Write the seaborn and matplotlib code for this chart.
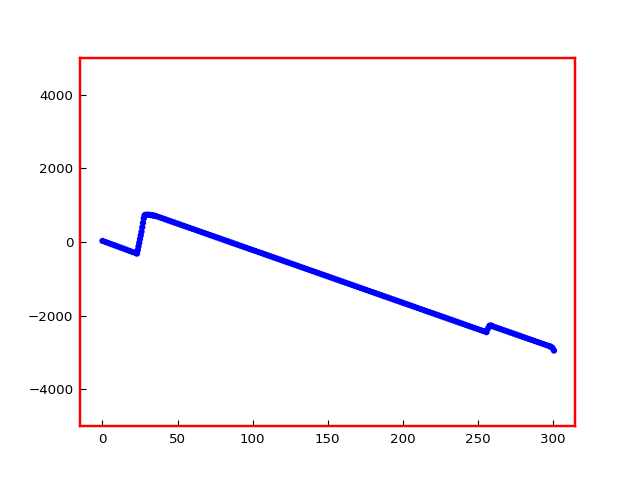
import matplotlib
matplotlib.use("Agg")
import matplotlib.pyplot as plt
import seaborn as sns
import pandas as pd

# Segment before the jump
x_a = [0, 2, 4, 6, 8, 10, 12, 14, 16, 18, 20, 22, 23]
y_a = [30, 0, -30, -60, -90, -120, -150, -180, -210, -240, -270, -300, -315]

# The steep rise
x_r = [23.5, 24, 24.5, 25, 25.5, 26, 26.5, 27, 27.5, 28, 28.5]
y_r = [-220, -120, -20, 80, 180, 280, 400, 520, 640, 720, 735]

# Flat top
x_p = [29, 30, 31, 32, 33, 34, 35]
y_p = [740, 740, 738, 735, 728, 720, 710]

# Long descent (x = 36 .. 256 by 2)
x_b = list(range(36, 257, 2))
y_b = [700, 671, 643, 614, 585, 557, 528, 500, 471, 442, 414, 385, 356, 328, 299,
       270, 242, 213, 184, 156, 127, 99, 70, 41, 13, -16, -45, -73, -102, -131,
       -159, -188, -216, -245, -274, -302, -331, -360, -388, -417, -446, -474,
       -503, -532, -560, -589, -617, -646, -675, -703, -732, -761, -789, -818,
       -847, -875, -904, -932, -961, -990, -1018, -1047, -1076, -1104, -1133,
       -1162, -1190, -1219, -1248, -1276, -1305, -1333, -1362, -1391, -1419,
       -1448, -1477, -1505, -1534, -1563, -1591, -1620, -1648, -1677, -1706,
       -1734, -1763, -1792, -1820, -1849, -1878, -1906, -1935, -1964, -1992,
       -2021, -2049, -2078, -2107, -2135, -2164, -2193, -2221, -2250, -2279,
       -2307, -2336, -2364, -2393, -2422, -2450]

# Small jump
x_j = [257, 258, 259]
y_j = [-2350, -2275, -2268]

# Final descent (x = 260 .. 298 by 2) and tail
x_c = list(range(260, 299, 2)) + [299, 300, 301]
y_c = [-2290, -2318, -2347, -2375, -2404, -2432, -2461, -2489, -2518, -2546,
       -2575, -2603, -2632, -2660, -2689, -2717, -2746, -2774, -2803, -2831,
       -2850, -2880, -2950]

xs = x_a + x_r + x_p + x_b + x_j + x_c
ys = y_a + y_r + y_p + y_b + y_j + y_c
df = pd.DataFrame({"x": xs, "y": ys})

sns.set_style("white")
plt.rcParams["font.family"] = ["DejaVu Sans"]

fig = plt.figure(figsize=(638 / 80, 478 / 80), dpi=80)
ax = fig.add_axes([80 / 638, 1 - 426 / 478, (575 - 80) / 638, (426 - 58) / 478])

sns.scatterplot(data=df, x="x", y="y", ax=ax, color="#0000ff", s=32,
                linewidth=0, edgecolor="none", legend=False)

ax.set_xlim(-15, 315)
ax.set_ylim(-5000, 5000)
ax.set_xticks([0, 50, 100, 150, 200, 250, 300])
ax.set_yticks([-4000, -2000, 0, 2000, 4000])
ax.set_xlabel("")
ax.set_ylabel("")
ax.tick_params(direction="in", length=5, width=1, color="black",
               labelcolor="black", labelsize=12,
               bottom=True, left=True, top=False, right=False, pad=6)
for sp in ax.spines.values():
    sp.set_color("red")
    sp.set_linewidth(2.2)
    sp.set_visible(True)

fig.savefig("out.png", dpi=80)
